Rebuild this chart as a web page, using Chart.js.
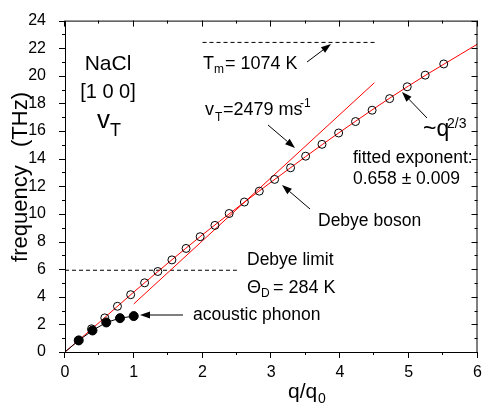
<!DOCTYPE html>
<html>
<head>
<meta charset="utf-8">
<script src="https://cdn.jsdelivr.net/npm/chart.js@4.4.0/dist/chart.umd.min.js"></script>
<style>html,body{margin:0;background:#fff}</style>
</head>
<body>
<canvas id="myChart" width="483" height="405"></canvas>
<script>
// Debye boson points (open circles)
const qBoson = [0.195, 0.386, 0.579, 0.763, 0.955, 1.158, 1.35, 1.555, 1.761, 1.966, 2.181, 2.388,
                2.609, 2.826, 3.049, 3.281, 3.50, 3.738, 3.98, 4.226, 4.467, 4.722, 4.978, 5.239, 5.509];
const fBoson = [0.84, 1.68, 2.47, 3.31, 4.15, 5.01, 5.83, 6.67, 7.50, 8.35, 9.17, 10.03,
                10.86, 11.65, 12.50, 13.34, 14.18, 15.04, 15.86, 16.69, 17.51, 18.35, 19.21, 20.05, 20.86];
// acoustic phonon (filled circles)
const qAcoustic = [0, 0.2, 0.4, 0.6, 0.8, 1.0];
const fAcoustic = [0, 0.84, 1.56, 2.14, 2.45, 2.6];
// fitted ~q^2/3 curve
const qFit = [0, 0.5, 1, 2, 3, 4, 5, 6];
const fFit = [0, 2.15, 4.34, 8.49, 12.31, 15.93, 19.28, 22.3];
// sound velocity line v_T
const qSound = [1.0, 4.5];
const fSound = [3.48, 19.5];
// horizontal limits
const debyeQ = [0, 2.5];
const debyeF = 5.92;
const meltQ = [2.0, 4.51];
const meltF = 22.42;
// axes
const xRange = [0, 6];
const yRange = [0, 24];
const xTickLabels = [0, 1, 2, 3, 4, 5, 6];

const pts = (xs, ys) => xs.map((x, i) => ({x: x, y: Array.isArray(ys) ? ys[i] : ys}));
const FONT = "'Liberation Sans', Arial, sans-serif";

function txt(ctx, s, x, y, size, align) {
  ctx.font = size + 'px ' + FONT;
  ctx.textAlign = align || 'left';
  ctx.textBaseline = 'alphabetic';
  ctx.fillText(s, x, y);
}
function arrow(ctx, x0, y0, x1, y1) {
  const a = Math.atan2(y1 - y0, x1 - x0), L = 10, W = 3.5;
  ctx.beginPath(); ctx.moveTo(x0, y0);
  ctx.lineTo(x1 - L * Math.cos(a), y1 - L * Math.sin(a)); ctx.stroke();
  ctx.beginPath(); ctx.moveTo(x1, y1);
  ctx.lineTo(x1 - L * Math.cos(a) + W * Math.sin(a), y1 - L * Math.sin(a) - W * Math.cos(a));
  ctx.lineTo(x1 - L * Math.cos(a) - W * Math.sin(a), y1 - L * Math.sin(a) + W * Math.cos(a));
  ctx.closePath(); ctx.fill();
}

const decor = {
  id: 'decor',
  afterDraw(chart) {
    const ctx = chart.ctx, a = chart.chartArea, xs = chart.scales.x, ys = chart.scales.y;
    ctx.save();
    ctx.strokeStyle = '#000'; ctx.fillStyle = '#000'; ctx.lineWidth = 1;
    ctx.strokeRect(a.left + 0.5, a.top + 0.5, a.right - a.left - 1, a.bottom - a.top);
    // ticks: outward on left/bottom, inward on top/right
    ctx.beginPath();
    for (let v = xRange[0]; v <= xRange[1] + 1e-9; v += 0.5) {
      const L = Number.isInteger(v) ? 6 : 3, px = Math.round(xs.getPixelForValue(v)) - 0.5;
      ctx.moveTo(px, a.bottom); ctx.lineTo(px, a.bottom + L);
      ctx.moveTo(px, a.top); ctx.lineTo(px, a.top + L);
    }
    for (let v = yRange[0]; v <= yRange[1]; v += 1) {
      const L = v % 2 === 0 ? 6 : 3, py = Math.round(ys.getPixelForValue(v)) + 0.5;
      ctx.moveTo(a.left, py); ctx.lineTo(a.left - L, py);
      ctx.moveTo(a.right, py); ctx.lineTo(a.right - L, py);
    }
    ctx.stroke();
    // x tick labels
    ctx.font = '16px ' + FONT; ctx.textAlign = 'center'; ctx.textBaseline = 'middle';
    xTickLabels.forEach(v => ctx.fillText(String(v), xs.getPixelForValue(v), a.bottom + 21));
    // axis titles
    ctx.save();
    ctx.translate(21, 177); ctx.rotate(-Math.PI / 2);
    ctx.font = '22px ' + FONT; ctx.textAlign = 'center'; ctx.textBaseline = 'middle';
    ctx.fillText('frequency   (THz)', 0, 0);
    ctx.restore();
    txt(ctx, 'q/q', 288, 398, 21); txt(ctx, '0', 318, 403, 14);
    // labels
    txt(ctx, 'NaCl', 108, 70, 21, 'center');
    txt(ctx, '[1 0 0]', 108, 98, 20, 'center');
    txt(ctx, 'v', 97, 128, 26); txt(ctx, 'T', 110, 136, 18);
    txt(ctx, 'T', 203, 69, 18); txt(ctx, 'm', 214, 73, 12); txt(ctx, '= 1074 K', 225, 69, 18);
    txt(ctx, 'v', 205, 115, 18); txt(ctx, 'T', 215, 121, 12); txt(ctx, '=2479 ms', 223, 115, 18);
    txt(ctx, '-1', 300, 107, 12);
    txt(ctx, '~q', 423, 136, 23); txt(ctx, '2/3', 447, 128, 14);
    txt(ctx, 'fitted exponent:', 353, 163, 17.5);
    txt(ctx, '0.658 \u00b1 0.009', 353, 184, 17.5);
    txt(ctx, 'Debye boson', 318, 226, 17.5);
    txt(ctx, 'Debye limit', 247, 265, 17.5);
    txt(ctx, '\u0398', 247, 293, 18); txt(ctx, 'D', 261, 297, 12); txt(ctx, '= 284 K', 273, 293, 18);
    txt(ctx, 'acoustic phonon', 193, 320, 17.5);
    // arrows
    arrow(ctx, 183, 315, 140, 315);
    arrow(ctx, 310, 209, 282, 185);
    arrow(ctx, 268, 125, 295, 148);
    arrow(ctx, 307, 62, 331, 44);
    arrow(ctx, 427, 118, 402, 92);
    ctx.restore();
  }
};

const ctx = document.getElementById('myChart');
new Chart(ctx, {
  type: 'scatter',
  data: {
    datasets: [
      { data: pts(qAcoustic, fAcoustic), showLine: true, borderColor: '#000', borderWidth: 1,
        backgroundColor: '#000', pointBorderColor: '#000',
        pointRadius: qAcoustic.map(q => q === 0 ? 0 : 4.5) },
      { data: pts(qBoson, fBoson), showLine: false, pointRadius: 4, borderColor: '#000',
        borderWidth: 1, backgroundColor: 'rgba(0,0,0,0)' },
      { data: pts(qFit, fFit), showLine: true, borderColor: '#ff0000', borderWidth: 1,
        pointRadius: 0, cubicInterpolationMode: 'monotone' },
      { data: pts(qSound, fSound), showLine: true, borderColor: '#ff0000', borderWidth: 1, pointRadius: 0 },
      { data: pts(debyeQ, debyeF), showLine: true, borderColor: '#000', borderWidth: 1,
        borderDash: [4, 3], pointRadius: 0 },
      { data: pts(meltQ, meltF), showLine: true, borderColor: '#000', borderWidth: 1,
        borderDash: [4, 3], pointRadius: 0 }
    ]
  },
  options: {
    responsive: false,
    animation: false,
    layout: { padding: { top: 18, right: 3, left: 0, bottom: 0 } },
    plugins: { legend: { display: false }, tooltip: { enabled: false } },
    scales: {
      x: {
        type: 'linear', min: xRange[0], max: xRange[1],
        grid: { display: false }, border: { display: false },
        ticks: { display: false, stepSize: 1 },
        afterFit: s => { s.height = 53; }
      },
      y: {
        type: 'linear', min: yRange[0], max: yRange[1],
        grid: { display: false }, border: { display: false },
        ticks: { stepSize: 2, padding: 11, color: '#000', font: { family: FONT, size: 16 } },
        afterFit: s => { s.width = 65; }
      }
    }
  },
  plugins: [decor]
});
</script>
</body>
</html>
